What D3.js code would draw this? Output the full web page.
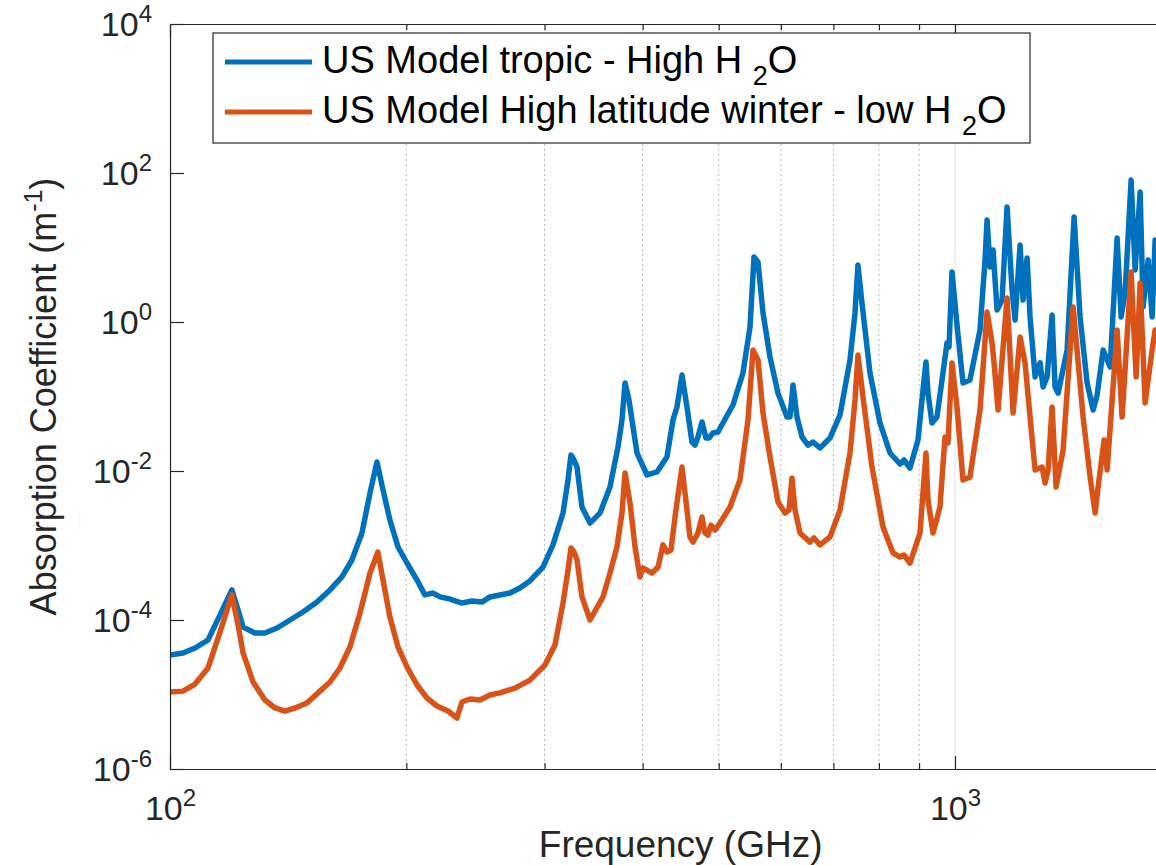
<!DOCTYPE html>
<html><head><meta charset="utf-8">
<script src="https://cdn.jsdelivr.net/npm/d3@7"></script>
<style>
body{margin:0;background:#fff;}
svg{display:block;font-family:"Liberation Sans",Arial,Helvetica,sans-serif;}
</style>
</head><body>
<svg id="chart" width="1156" height="865"></svg>
<script>
// ---------- data (frequency in GHz, absorption coefficient in 1/m) ----------
const freqTropic = [100,103.9,107.6,111.8,115.8,119.9,122.1,123.9,128.3,132.1,136.9,142.2,147.7,153.9,159.9,165.6,170.5,175.6,179.8,183.5,186.8,190.6,195.2,200.4,206.4,211.2,216.3,220.8,227.3,235.5,242.5,249.7,255.6,263.2,271.1,279.1,287.4,298.6,307.5,316.7,321.4,324.2,327.1,330.0,334.8,342.8,353.0,363.5,372.1,376.5,379.9,384.3,387.7,393.5,405.2,417.2,429.6,437.3,442.4,449.0,455.6,462.3,466.4,470.5,476.1,481.7,486.0,491.7,499.0,506.3,521.4,536.9,548.1,554.6,561.1,569.4,581.2,595.0,610.9,616.3,621.8,629.1,638.4,649.7,659.3,673.0,693.0,713.7,734.9,745.8,752.3,761.2,779.3,802.5,826.4,851.0,861.0,876.3,897.1,910.4,918.4,923.8,934.7,948.5,965.4,976.8,982.6,991.2,1005.9,1023.7,1044.8,1076.1,1092.1,1098.6,1108.3,1118.1,1131.3,1148.0,1165.0,1182.2,1192.7,1210.3,1221.0,1235.4,1246.3,1264.8,1283.4,1294.8,1310.1,1329.5,1341.2,1353.1,1389.3,1418.1,1443.3,1473.3,1499.5,1517.2,1544.2,1576.2,1608.9,1627.8,1647.0,1676.3,1696.1,1721.2,1736.4,1762.1,1782.9,1798.6];
const absTropic = [3.39e-5,3.61e-5,4.21e-5,5.39e-5,1.17e-4,2.53e-4,1.36e-4,8.05e-5,6.69e-5,6.69e-5,7.81e-5,1.00e-4,1.28e-4,1.74e-4,2.53e-4,3.78e-4,6.39e-4,1.47e-3,5.07e-3,1.32e-2,5.56e-3,2.20e-3,9.55e-4,5.82e-4,3.44e-4,2.17e-4,2.30e-4,2.04e-4,1.91e-4,1.69e-4,1.80e-4,1.74e-4,2.04e-4,2.17e-4,2.30e-4,2.69e-4,3.34e-4,5.14e-4,1.02e-3,2.73e-3,7.57e-3,1.64e-2,1.405e-2,1.13e-2,3.29e-3,2.00e-3,2.73e-3,6.10e-3,2.10e-2,4.84e-2,0.152,8.97e-2,4.84e-2,1.74e-2,8.84e-3,9.70e-3,1.54e-2,4.84e-2,7.23e-2,0.194,7.23e-2,2.45e-2,2.23e-2,2.86e-2,4.55e-2,2.77e-2,2.77e-2,3.24e-2,3.34e-2,4.41e-2,7.69e-2,0.207,0.857,7.46,6.39,1.32,0.339,0.111,5.31e-2,5.31e-2,0.143,5.31e-2,2.86e-2,2.23e-2,2.45e-2,2.04e-2,2.77e-2,5.65e-2,0.309,1.32,5.82,1.80,0.207,4.41e-2,1.744e-2,1.242e-2,1.405e-2,1.097e-2,2.61e-2,0.122,0.290,0.111,4.41e-2,5.31e-2,0.207,0.523,0.462,4.69,0.911,0.152,0.1665,0.781,6.80,23.4,5.47,9.26,1.45,1.97,35.0,2.69,1.06,10.8,1.97,7.23,1.17,0.183,0.282,0.134,0.183,1.24,0.134,0.111,0.421,25.7,1.17,0.152,6.59e-2,0.105,0.421,0.249,13.4,1.17,2.45,80.5,4.99,55.6,1.59,6.80,1.17,12.6];

const freqWinter = [100,103.9,107.6,111.8,115.8,119.9,122.1,123.9,127.6,132.1,136.1,140.1,144.3,149.4,154.4,159.9,164.6,169.5,174.6,179.8,184.0,186.8,190.6,195.2,200.4,206.4,212.5,218.8,226.0,232.0,235.5,241.1,248.2,255.6,263.2,275.1,287.4,300.4,309.3,316.7,321.4,324.2,327.1,330.0,334.8,342.8,356.1,363.5,371.0,376.5,379.9,385.5,391.2,396.9,400.4,411.2,418.5,424.6,429.6,434.7,437.3,441.1,449.0,455.6,459.6,463.7,470.5,476.1,480.3,484.5,488.8,494.6,501.9,516.9,532.2,544.9,552.9,561.1,569.4,581.2,595.0,607.3,614.5,619.9,625.4,634.7,653.5,661.3,673.0,693.0,713.7,734.9,745.8,752.3,763.5,783.9,809.6,833.7,851.0,861.0,876.3,902.4,918.4,923.8,937.5,956.9,971.1,979.7,991.2,1005.9,1023.7,1044.8,1076.1,1098.6,1114.8,1121.4,1134.6,1165.0,1185.7,1210.3,1228.2,1246.3,1264.8,1291.0,1302.4,1314.0,1329.5,1345.2,1373.1,1414.0,1456.1,1486.3,1508.3,1521.7,1548.7,1562.4,1608.9,1632.6,1676.3,1701.1,1721.2,1746.6,1782.9,1798.6];
const absWinter = [1.08e-5,1.11e-5,1.38e-5,2.27e-5,6.90e-5,2.17e-4,8.57e-5,3.61e-5,1.47e-5,8.44e-6,6.59e-6,6.00e-6,6.59e-6,7.69e-6,1.05e-5,1.47e-5,2.27e-5,4.34e-5,1.24e-4,4.27e-4,8.18e-4,3.44e-4,1.10e-4,4.34e-5,2.34e-5,1.34e-5,8.97e-6,7.01e-6,6.00e-6,4.84e-6,7.93e-6,8.70e-6,8.44e-6,9.85e-6,1.05e-5,1.22e-5,1.56e-5,2.49e-5,4.62e-5,1.69e-4,4.69e-4,9.26e-4,8.18e-4,6.39e-4,2.04e-4,1.00e-4,2.04e-4,4.27e-4,9.55e-4,2.73e-3,9.40e-3,3.72e-3,9.55e-4,3.78e-4,4.99e-4,4.27e-4,5.14e-4,1.02e-3,8.18e-4,8.71e-4,1.47e-3,3.00e-3,1.13e-2,3.00e-3,1.30e-3,1.11e-3,1.47e-3,2.41e-3,1.47e-3,1.38e-3,1.88e-3,1.61e-3,2.00e-3,3.29e-3,7.57e-3,4.84e-2,0.421,0.309,6.00e-2,1.54e-2,3.84e-3,2.73e-3,3.00e-3,8.05e-3,3.00e-3,1.47e-3,1.11e-3,1.26e-3,1.02e-3,1.30e-3,3.00e-3,1.744e-2,8.97e-2,0.361,9.85e-2,1.13e-2,1.77e-3,7.93e-4,7.01e-4,7.46e-4,5.82e-4,1.47e-3,1.744e-2,4.08e-3,1.47e-3,3.29e-3,2.86e-2,2.38e-2,0.282,7.23e-2,7.57e-3,8.31e-3,6.59e-2,1.36,0.523,0.282,6.59e-2,2.10,6.00e-2,0.629,0.282,5.31e-2,1.03e-2,1.13e-2,6.90e-3,1.03e-2,7.23e-2,6.10e-3,1.91e-2,1.59,5.31e-2,8.31e-3,2.73e-3,6.10e-3,2.61e-2,1.03e-2,0.781,5.31e-2,4.69,0.183,3.34,8.18e-2,0.421,0.781];

const yTickValues = [1e-6, 1e-4, 1e-2, 1, 1e2, 1e4];
const yTickExponents = ["-6", "-4", "-2", "0", "2", "4"];
const xTickValues = [100, 1000];
const xTickExponents = ["2", "3"];
const xMinorValues = [200, 300, 400, 500, 600, 700, 800, 900, 2000];
const legendLabels = [["US Model tropic - High H ", "2", "O"], ["US Model High latitude winter - low H ", "2", "O"]];
const seriesColors = ["#0072BD", "#D95319"];
const xLabel = "Frequency (GHz)";
const yLabel = ["Absorption Coefficient (m", "-1", ")"];

// ---------- layout ----------
const svg = d3.select("#chart");
const pLeft = 170, pTop = 24, pBottom = 769;
const x = d3.scaleLog().domain([100, 2000]).range([pLeft, pLeft + 785 * Math.log10(20)]);
const y = d3.scaleLog().domain([1e-6, 1e4]).range([pBottom, pTop]);
const pRight = x.range()[1];
const axisColor = "#262626";

// grid
svg.append("g").selectAll("line").data(xMinorValues).join("line")
  .attr("x1", d => x(d)).attr("x2", d => x(d)).attr("y1", pTop).attr("y2", pBottom)
  .attr("stroke", "#b8b8b8").attr("stroke-width", 1).attr("stroke-dasharray", "2,3");
svg.append("g").selectAll("line").data(xTickValues.slice(1)).join("line")
  .attr("x1", d => x(d)).attr("x2", d => x(d)).attr("y1", pTop).attr("y2", pBottom)
  .attr("stroke", "#e3e3e3").attr("stroke-width", 1);

// curves
svg.append("defs").append("clipPath").attr("id", "clip").append("rect")
  .attr("x", pLeft).attr("y", pTop).attr("width", pRight - pLeft).attr("height", pBottom - pTop);
const lineGen = d3.line().x(d => x(d[0])).y(d => y(d[1]));
const series = [d3.zip(freqTropic, absTropic), d3.zip(freqWinter, absWinter)];
svg.append("g").attr("clip-path", "url(#clip)").selectAll("path").data(series).join("path")
  .attr("d", lineGen).attr("fill", "none")
  .attr("stroke", (d, i) => seriesColors[i]).attr("stroke-width", 5.5)
  .attr("stroke-linejoin", "round").attr("stroke-linecap", "round");

// axes
function styleAxis(g) {
  g.select(".domain").attr("stroke", axisColor).attr("stroke-width", 1.2);
  g.selectAll(".tick line").attr("stroke", axisColor).attr("stroke-width", 1.2);
}
const gx = svg.append("g").attr("transform", `translate(0,${pBottom})`)
  .call(d3.axisBottom(x).tickValues(xTickValues).tickSize(-13).tickSizeOuter(0).tickFormat(() => ""))
  .call(styleAxis);
svg.append("g").attr("transform", `translate(0,${pBottom})`)
  .call(d3.axisBottom(x).tickValues(xMinorValues).tickSize(-6).tickSizeOuter(0).tickFormat(() => ""))
  .call(styleAxis);
svg.append("g").attr("transform", `translate(0,${pTop})`)
  .call(d3.axisTop(x).tickValues(xTickValues).tickSize(-13).tickSizeOuter(0).tickFormat(() => ""))
  .call(styleAxis);
svg.append("g").attr("transform", `translate(0,${pTop})`)
  .call(d3.axisTop(x).tickValues(xMinorValues).tickSize(-6).tickSizeOuter(0).tickFormat(() => ""))
  .call(styleAxis);
const gy = svg.append("g").attr("transform", `translate(${pLeft},0)`)
  .call(d3.axisLeft(y).tickValues(yTickValues).tickSize(-14).tickSizeOuter(0).tickFormat(() => ""))
  .call(styleAxis);

// tick labels with superscripts
gx.selectAll(".tick text").each(function(d, i) {
  const t = d3.select(this).attr("y", 51).attr("dy", null)
    .attr("fill", "#262626").attr("font-size", 34).attr("text-anchor", "middle");
  t.append("tspan").text("10");
  t.append("tspan").attr("font-size", 24).attr("dy", -14).text(xTickExponents[i]);
});
gy.selectAll(".tick text").each(function(d, i) {
  const t = d3.select(this).attr("x", -18).attr("dy", 11)
    .attr("fill", "#262626").attr("font-size", 34).attr("text-anchor", "end");
  t.append("tspan").text("10");
  t.append("tspan").attr("font-size", 24).attr("dy", -14).text(yTickExponents[i]);
});

// axis titles
svg.append("text").attr("x", (pLeft + pRight) / 2).attr("y", 857).attr("text-anchor", "middle")
  .attr("font-size", 37).attr("fill", "#262626").text(xLabel);
const yl = svg.append("text").attr("transform", `translate(56,${(pTop + pBottom) / 2}) rotate(-90)`)
  .attr("text-anchor", "middle").attr("font-size", 36).attr("fill", "#262626");
yl.append("tspan").text(yLabel[0]);
yl.append("tspan").attr("font-size", 25).attr("dy", -14).text(yLabel[1]);
yl.append("tspan").attr("dy", 14).text(yLabel[2]);

// legend
const lg = svg.append("g");
lg.append("rect").attr("x", 213).attr("y", 33).attr("width", 817).attr("height", 110)
  .attr("fill", "#fff").attr("stroke", axisColor).attr("stroke-width", 1.2);
legendLabels.forEach((lab, i) => {
  const cy = 62 + i * 50;
  lg.append("line").attr("x1", 225).attr("x2", 312).attr("y1", cy).attr("y2", cy)
    .attr("stroke", seriesColors[i]).attr("stroke-width", 5);
  const t = lg.append("text").attr("x", 322).attr("y", cy + 11).attr("font-size", 38).attr("fill", "#000");
  t.append("tspan").text(lab[0]);
  t.append("tspan").attr("font-size", 27).attr("dy", 12).text(lab[1]);
  t.append("tspan").attr("dy", -12).text(lab[2]);
});
</script>
</body></html>
